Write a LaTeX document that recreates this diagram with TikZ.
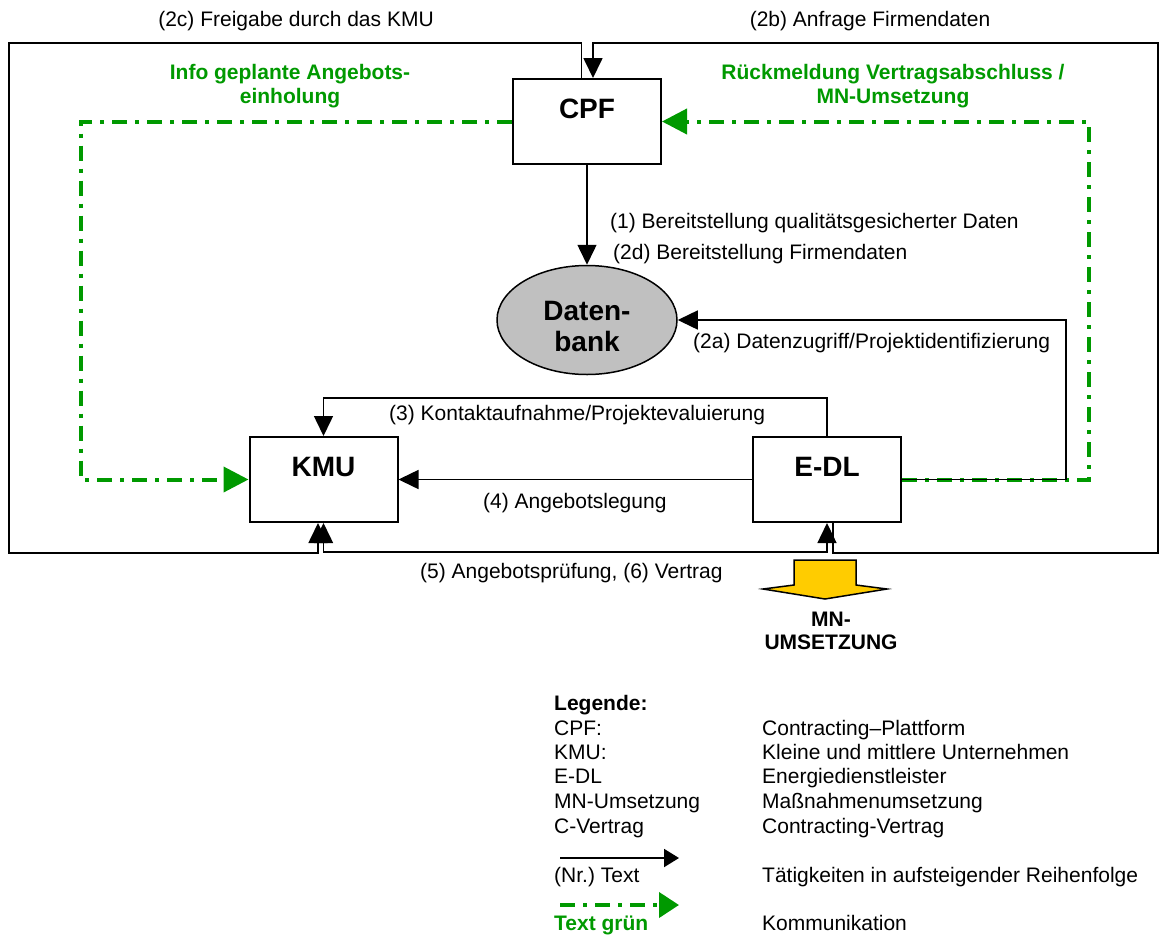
\documentclass[tikz,border=0pt]{standalone}
\usepackage{fontspec}
\setmainfont{Liberation Sans}
\usetikzlibrary{arrows.meta,shapes.geometric}
\definecolor{grn}{RGB}{0,153,0}
\definecolor{ylw}{RGB}{255,204,0}
\definecolor{dbgray}{RGB}{192,192,192}
\frenchspacing
\begin{document}
\begin{tikzpicture}[x=1pt,y=-1pt,
  txt/.style={inner sep=0pt,font=\fontsize{21}{24}\selectfont,text height=15pt,text depth=4pt},
  btxt/.style={inner sep=0pt,font=\fontsize{21}{24}\selectfont\bfseries,text height=15pt,text depth=4pt},
  gtxt/.style={inner sep=0pt,font=\fontsize{21}{24}\selectfont\bfseries,text=grn,align=center},
  box/.style={draw,line width=2pt,fill=white,minimum width=148pt,minimum height=85pt,inner sep=0pt,
    font=\fontsize{28}{32}\selectfont\bfseries,text height=20pt,text depth=27pt},
  ln/.style={draw,line width=1.5pt},
  oln/.style={draw,line width=1.7pt},
  atip/.style={-{Triangle[length=20pt,width=19pt]}},
  btip/.style={{Triangle[length=20pt,width=19pt]}-{Triangle[length=20pt,width=19pt]}},
  gline/.style={draw=grn,line width=4pt,dash pattern=on 15pt off 8pt on 4pt off 8pt},
  gtip/.style={-{Triangle[length=25pt,width=25pt]}},
]
\useasboundingbox (0,0) rectangle (1160,938);

% coordinates for bends
\coordinate (oTL) at (9,43);
\coordinate (oBL) at (9,553);
\coordinate (oTR) at (1158,43);
\coordinate (oBR) at (1158,553);
\coordinate (gL) at (81,121.5);
\coordinate (gR) at (1089,121.5);
\coordinate (c2a) at (1066,320);
\coordinate (c3) at (575,398);
\coordinate (c5) at (575,552);

% boxes
\node[box] (cpf) at (587,121.5) {CPF};
\node[box] (kmu) at (323.5,479.5) {KMU};
\node[box] (edl) at (827,479.5) {E-DL};
\node[ellipse,draw,line width=1.5pt,fill=dbgray,minimum width=180pt,minimum height=109pt,inner sep=0pt] (db) at (587,320) {};
\node[inner sep=0pt,align=center,font=\fontsize{28}{31}\selectfont\bfseries] (dbt) at (587,326.3) {Daten-\\bank};

% green communication lines
\draw[gline,gtip] (cpf.west) -- (gL) |- (kmu.west);
\draw[gline,gtip] (edl.east) -| (gR) -- (cpf.east);

% outer loops
\draw[oln,atip] ([xshift=-5.5pt]cpf.north) |- (oTL) -- (oBL) -| ([xshift=-5.5pt]kmu.south);
\draw[oln,atip] ([xshift=6pt]edl.south) |- (oBR) -- (oTR) -| ([xshift=6pt]cpf.north);

% black activity connectors
\draw[ln,atip] (cpf.south) -- (db.north);
\draw[ln,atip] (edl.east) -| (c2a) -- (db.east);
\draw[ln,atip] (edl.north) |- (c3) -| (kmu.north);
\draw[ln,atip] (edl.west) -- (kmu.east);
\draw[ln,btip] (kmu.south) |- (c5) -| (edl.south);

% labels
\node[txt] (l2c) at (296,21) {(2c) Freigabe durch das KMU};
\node[txt] (l2b) at (870,21) {(2b) Anfrage Firmendaten};
\node[gtxt] (ginfo) at (290,86.5) {Info geplante Angebots-\\einholung};
\node[gtxt] (grueck) at (893,86.5) {Rückmeldung Vertragsabschluss /\\MN-Umsetzung};
\node[txt,anchor=west] (l1) at (610,223) {(1) Bereitstellung qualitätsgesicherter Daten};
\node[txt,anchor=west] (l2d) at (613,254) {(2d) Bereitstellung Firmendaten};
\node[txt,anchor=west] (l2a) at (693,343) {(2a) Datenzugriff/Projektidentifizierung};
\node[txt,anchor=west] (l3) at (389,415) {(3) Kontaktaufnahme/Projektevaluierung};
\node[txt,anchor=west] (l4) at (483,503) {(4) Angebotslegung};
\node[txt,anchor=west] (l5) at (420,573) {(5) Angebotsprüfung, (6) Vertrag};

% MN-Umsetzung block arrow
\draw[line width=1.5pt,fill=ylw,line join=miter] (794,560) -- (856,560) -- (856,585) -- (887,589) -- (825,599) -- (763,589) -- (794,585) -- cycle;
\node[inner sep=0pt,align=center,font=\fontsize{21}{23}\selectfont\bfseries] (mn) at (831,630.5) {MN-\\UMSETZUNG};

% legend
\node[btxt,anchor=west] (lg) at (554,705) {Legende:};
\node[txt,anchor=west] (lg1a) at (554,730) {CPF:};
\node[txt,anchor=west] (lg1b) at (762,730) {Contracting–Plattform};
\node[txt,anchor=west] (lg2a) at (554,754) {KMU:};
\node[txt,anchor=west] (lg2b) at (762,754) {Kleine und mittlere Unternehmen};
\node[txt,anchor=west] (lg3a) at (554,778) {E-DL};
\node[txt,anchor=west] (lg3b) at (762,778) {Energiedienstleister};
\node[txt,anchor=west] (lg4a) at (554,803) {MN-Umsetzung};
\node[txt,anchor=west] (lg4b) at (762,803) {Maßnahmenumsetzung};
\node[txt,anchor=west] (lg5a) at (554,828) {C-Vertrag};
\node[txt,anchor=west] (lg5b) at (762,828) {Contracting-Vertrag};
\coordinate (la1) at (560,858);
\coordinate (la2) at (679,858);
\draw[line width=2pt,-{Triangle[length=15pt,width=18pt]}] (la1) -- (la2);
\node[txt,anchor=west] (lg6a) at (554,877) {(Nr.) Text};
\node[txt,anchor=west] (lg6b) at (762,877) {Tätigkeiten in aufsteigender Reihenfolge};
\coordinate (lb1) at (560,905);
\coordinate (lb2) at (679,905);
\draw[gline,-{Triangle[length=20pt,width=25pt]}] (lb1) -- (lb2);
\node[btxt,anchor=west,text=grn] (lg7a) at (554,925) {Text grün};
\node[txt,anchor=west] (lg7b) at (762,925) {Kommunikation};
\end{tikzpicture}
\end{document}
